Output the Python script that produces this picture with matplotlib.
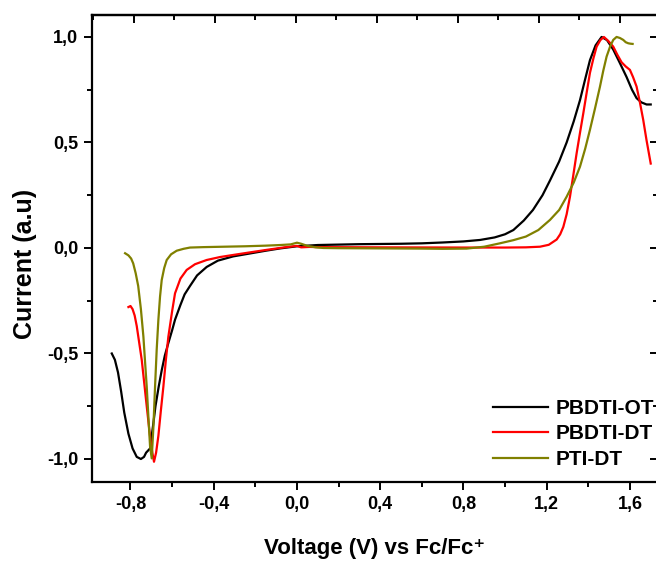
import matplotlib
matplotlib.use("Agg")
import matplotlib.pyplot as plt
from matplotlib.ticker import MultipleLocator, FuncFormatter

plt.rcParams["font.family"] = ["Liberation Sans", "DejaVu Sans"]
plt.rcParams["font.weight"] = "bold"
plt.rcParams["mathtext.default"] = "bf"

# PBDTI-OT (black)
ot_v = [-0.89, -0.875, -0.86, -0.845, -0.83, -0.81, -0.79, -0.77, -0.75, -0.735,
        -0.725, -0.706, -0.69, -0.68, -0.665, -0.65, -0.635, -0.618, -0.60, -0.586,
        -0.56, -0.54, -0.514, -0.48, -0.434, -0.38, -0.307, -0.22, -0.15, -0.08,
        0.0, 0.1, 0.2, 0.3, 0.4, 0.5, 0.6, 0.7, 0.8, 0.88, 0.95, 1.0, 1.04, 1.09,
        1.134, 1.18, 1.216, 1.26, 1.296, 1.33, 1.36, 1.385, 1.408, 1.435, 1.464,
        1.49, 1.52, 1.55, 1.584, 1.61, 1.632, 1.655, 1.68, 1.70]
ot_i = [-0.50, -0.53, -0.59, -0.68, -0.78, -0.88, -0.95, -0.99, -1.0, -0.99,
        -0.97, -0.95, -0.83, -0.75, -0.66, -0.58, -0.51, -0.45, -0.39, -0.34,
        -0.27, -0.22, -0.18, -0.13, -0.09, -0.06, -0.04, -0.025, -0.013, -0.002,
        0.008, 0.014, 0.016, 0.018, 0.019, 0.02, 0.022, 0.026, 0.031, 0.038, 0.05,
        0.065, 0.085, 0.13, 0.18, 0.25, 0.32, 0.41, 0.50, 0.60, 0.70, 0.80, 0.89,
        0.96, 1.0, 0.985, 0.94, 0.88, 0.81, 0.75, 0.71, 0.69, 0.68, 0.68]

# PBDTI-DT (red)
dt_v = [-0.81, -0.80, -0.79, -0.78, -0.77, -0.758, -0.746, -0.734, -0.722, -0.712,
        -0.704, -0.695, -0.687, -0.677, -0.666, -0.654, -0.642, -0.63, -0.618, -0.60,
        -0.586, -0.56, -0.53, -0.49, -0.434, -0.37, -0.306, -0.22, -0.146, -0.06,
        0.0, 0.02, 0.06, 0.1, 0.4, 0.8, 1.0, 1.1, 1.168, 1.21, 1.248, 1.265, 1.28,
        1.296, 1.312, 1.328, 1.344, 1.36, 1.376, 1.392, 1.408, 1.425, 1.44, 1.458,
        1.475, 1.497, 1.52, 1.54, 1.56, 1.58, 1.60, 1.615, 1.632, 1.648, 1.664,
        1.68, 1.70]
dt_i = [-0.28, -0.275, -0.29, -0.32, -0.37, -0.45, -0.53, -0.64, -0.75, -0.84,
        -0.91, -0.97, -1.013, -0.97, -0.89, -0.77, -0.657, -0.53, -0.42, -0.30,
        -0.215, -0.145, -0.104, -0.077, -0.057, -0.043, -0.033, -0.02, -0.009, 0.003,
        0.01, 0.003, 0.005, 0.004, 0.003, 0.002, 0.002, 0.003, 0.006, 0.015, 0.04,
        0.065, 0.10, 0.16, 0.243, 0.345, 0.449, 0.545, 0.638, 0.735, 0.83, 0.90,
        0.954, 0.985, 1.0, 0.98, 0.954, 0.915, 0.88, 0.86, 0.844, 0.81, 0.765,
        0.69, 0.607, 0.51, 0.40]

# PTI-DT (olive)
pti_v = [-0.826, -0.81, -0.797, -0.787, -0.775, -0.763, -0.75, -0.738, -0.73, -0.722,
         -0.714, -0.706, -0.698, -0.69, -0.682, -0.674, -0.666, -0.658, -0.65, -0.638,
         -0.626, -0.605, -0.578, -0.545, -0.514, -0.45, -0.35, -0.25, -0.15, -0.08,
         -0.03, 0.0, 0.02, 0.05, 0.09, 0.127, 0.2, 0.4, 0.6, 0.7, 0.815, 0.9, 0.975,
         1.04, 1.10, 1.16, 1.216, 1.26, 1.296, 1.33, 1.36, 1.385, 1.408, 1.432, 1.456,
         1.472, 1.488, 1.505, 1.52, 1.536, 1.552, 1.568, 1.58, 1.592, 1.603, 1.613]
pti_i = [-0.025, -0.035, -0.05, -0.073, -0.12, -0.18, -0.29, -0.42, -0.54, -0.657,
         -0.80, -0.94, -0.997, -0.85, -0.657, -0.48, -0.34, -0.23, -0.152, -0.095,
         -0.057, -0.03, -0.013, -0.004, 0.002, 0.004, 0.006, 0.008, 0.011, 0.014,
         0.017, 0.025, 0.02, 0.01, 0.003, 0.0, -0.001, -0.002, -0.003, -0.004, -0.003,
         0.006, 0.022, 0.037, 0.054, 0.085, 0.133, 0.18, 0.243, 0.31, 0.385, 0.47,
         0.56, 0.66, 0.764, 0.84, 0.907, 0.955, 0.986, 1.0, 0.995, 0.986, 0.975,
         0.97, 0.968, 0.967]

series = [("PBDTI-OT", ot_v, ot_i, "#000000"),
          ("PBDTI-DT", dt_v, dt_i, "#ff0000"),
          ("PTI-DT", pti_v, pti_i, "#808000")]

fig = plt.figure(figsize=(6.56, 5.61), dpi=100)
ax = fig.add_axes([92 / 656, 79 / 561, 566 / 656, 467 / 561])

for name, v, i, c in series:
    ax.plot(v, i, color=c, lw=1.6, label=name)

ax.set_xlim(-0.985, 1.735)
ax.set_ylim(-1.109, 1.104)

comma = FuncFormatter(lambda x, p: f"{x:.1f}".replace(".", ",").replace("-0,0", "0,0"))
ax.xaxis.set_major_locator(MultipleLocator(0.4))
ax.xaxis.set_minor_locator(MultipleLocator(0.2))
ax.yaxis.set_major_locator(MultipleLocator(0.5))
ax.yaxis.set_minor_locator(MultipleLocator(0.25))
ax.xaxis.set_major_formatter(comma)
ax.yaxis.set_major_formatter(comma)
ax.tick_params(which="major", direction="out", length=6, width=1.4,
               labelsize=13, pad=4)
ax.tick_params(which="minor", direction="out", length=3.5, width=1.4)
for sp in ax.spines.values():
    sp.set_linewidth(1.6)

# mirrored inward ticks on top (slightly different scale in the original) and right
top = ax.secondary_xaxis("top", functions=(lambda x: (208.1 * x + 1) / 202.5,
                                           lambda t: (202.5 * t - 1) / 208.1))
right = ax.secondary_yaxis("right")
for sec, axis in ((top, top.xaxis), (right, right.yaxis)):
    axis.set_major_locator(MultipleLocator(0.4 if sec is top else 0.5))
    axis.set_minor_locator(MultipleLocator(0.2 if sec is top else 0.25))
    sec.tick_params(which="major", direction="in", length=6, width=1.4,
                    labeltop=False, labelright=False)
    sec.tick_params(which="minor", direction="in", length=3.5, width=1.4)
    for sp in sec.spines.values():
        sp.set_linewidth(1.6)

ax.set_xlabel("Voltage (V) vs Fc/Fc\u207a", fontsize=16, fontweight="bold", labelpad=18)
ax.set_ylabel("Current (a.u)", fontsize=18, fontweight="bold")
ax.yaxis.set_label_coords(-0.097, 0.467)

ax.legend(loc="upper left", bbox_to_anchor=(493 / 656, 1 - 399 / 561),
          bbox_transform=fig.transFigure, frameon=False, fontsize=15,
          handlelength=2.65, handletextpad=0.35, labelspacing=0.31, borderpad=0,
          borderaxespad=0)

fig.savefig("out.png", dpi=100)
